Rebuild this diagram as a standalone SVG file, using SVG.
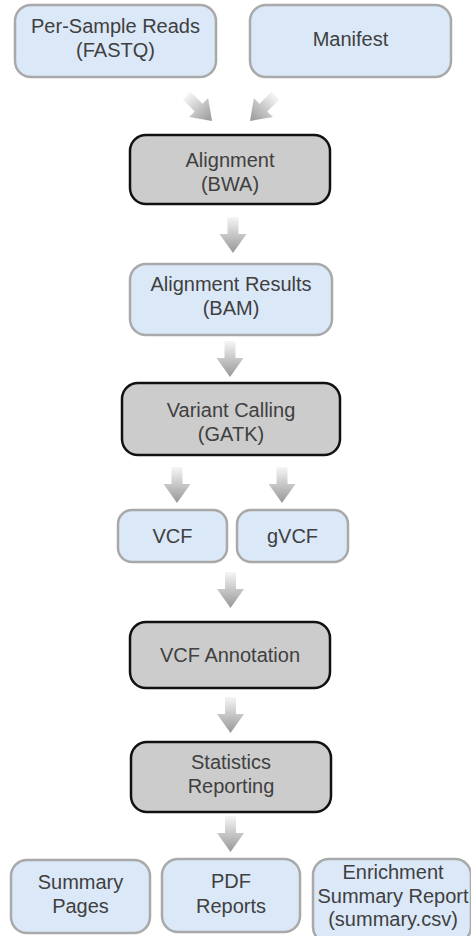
<svg xmlns="http://www.w3.org/2000/svg" xmlns:xlink="http://www.w3.org/1999/xlink" width="471" height="936" viewBox="0 0 471 936">
<defs>
<linearGradient id="ag" x1="0" y1="0" x2="0" y2="1">
<stop offset="0" stop-color="#f6f6f6"/>
<stop offset="0.5" stop-color="#c6c6c6"/>
<stop offset="1" stop-color="#979797"/>
</linearGradient>
<path id="arr" d="M-5.5,-36 H5.5 V-19 H13.5 L0,0 L-13.5,-19 H-5.5 Z" fill="url(#ag)"/>
</defs>
<style>
.data{fill:#dbe8f8;stroke:#a9a9a9;stroke-width:2.5}
.proc{fill:#cccccc;stroke:#111111;stroke-width:2.5}
text{font-family:"Liberation Sans",Arial,sans-serif;font-size:20px;fill:#404040;text-anchor:middle}
</style>
<rect width="471" height="936" fill="#ffffff"/>
<g id="connectors">
<use xlink:href="#arr" href="#arr" transform="translate(212,121) rotate(-45)"/>
<use xlink:href="#arr" href="#arr" transform="translate(250,121) rotate(45)"/>
<use xlink:href="#arr" href="#arr" transform="translate(233,253)"/>
<use xlink:href="#arr" href="#arr" transform="translate(230,377)"/>
<use xlink:href="#arr" href="#arr" transform="translate(177,503)"/>
<use xlink:href="#arr" href="#arr" transform="translate(282,503)"/>
<use xlink:href="#arr" href="#arr" transform="translate(230.5,608)"/>
<use xlink:href="#arr" href="#arr" transform="translate(230.5,733)"/>
<use xlink:href="#arr" href="#arr" transform="translate(230.5,852)"/>
</g>
<g id="reads"><rect class="data" x="15" y="5" width="201" height="72" rx="16"/><text x="115.5" y="33">Per-Sample Reads</text><text x="115.5" y="57">(FASTQ)</text></g>
<g id="manifest"><rect class="data" x="250" y="5" width="201" height="72" rx="16"/><text x="350.5" y="46">Manifest</text></g>
<g id="alignment"><rect class="proc" x="130" y="135" width="200" height="69" rx="16"/><text x="230" y="166.5">Alignment</text><text x="230" y="190.5">(BWA)</text></g>
<g id="bam"><rect class="data" x="130" y="264" width="202" height="71" rx="16"/><text x="231" y="291">Alignment Results</text><text x="231" y="315">(BAM)</text></g>
<g id="variant"><rect class="proc" x="122" y="383" width="218" height="72" rx="16"/><text x="231" y="417">Variant Calling</text><text x="231" y="441">(GATK)</text></g>
<g id="vcf"><rect class="data" x="118" y="510" width="109" height="52" rx="14"/><text x="172.5" y="542.5">VCF</text></g>
<g id="gvcf"><rect class="data" x="237" y="510" width="111" height="52" rx="14"/><text x="292.5" y="542.5">gVCF</text></g>
<g id="annotation"><rect class="proc" x="130" y="622" width="200" height="66" rx="16"/><text x="230" y="662">VCF Annotation</text></g>
<g id="statistics"><rect class="proc" x="131" y="742" width="200" height="70" rx="16"/><text x="231" y="769">Statistics</text><text x="231" y="793">Reporting</text></g>
<g id="summary"><rect class="data" x="11" y="860" width="139" height="73" rx="16"/><text x="80.5" y="889">Summary</text><text x="80.5" y="913">Pages</text></g>
<g id="pdf"><rect class="data" x="162" y="859" width="138" height="73" rx="16"/><text x="231" y="888">PDF</text><text x="231" y="913">Reports</text></g>
<g id="enrichment"><rect class="data" x="313" y="859" width="158" height="84" rx="16"/><text x="393" y="879">Enrichment</text><text x="393" y="903">Summary Report</text><text x="393" y="926">(summary.csv)</text></g>
</svg>
